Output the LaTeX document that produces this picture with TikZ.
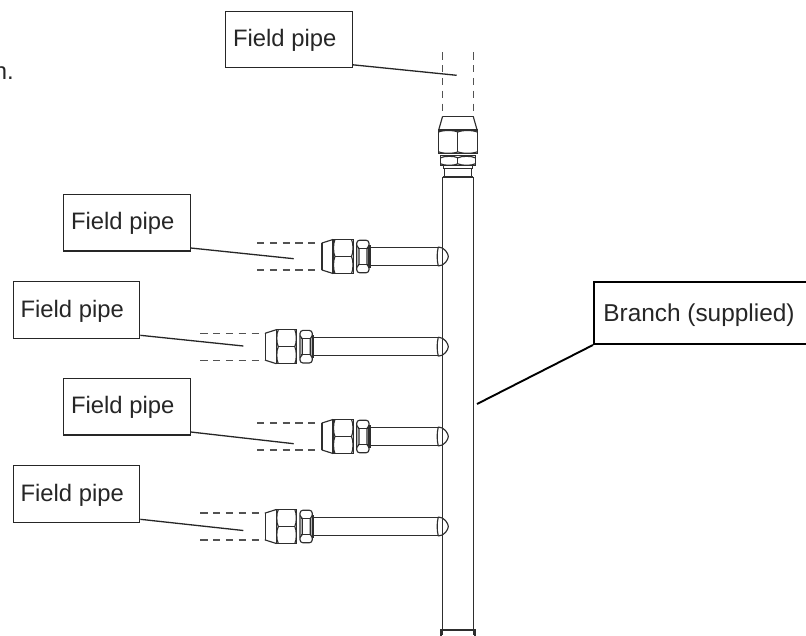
\documentclass[tikz,border=0pt]{standalone}
\usepackage{fontspec}
\setmainfont{Liberation Sans}
\definecolor{ink}{gray}{0.18}
\tikzset{
  pipe/.style={draw=ink,line width=1.15pt},
  dashpipe/.style={draw=black!68,line width=1.15pt,dash pattern=on 7.2pt off 5.6pt},
  leader/.style={draw=black!85,line width=1.3pt},
  labelbox/.style={draw=black!85,line width=1.3pt,fill=white,inner xsep=7.5pt,inner ysep=0pt,
    text width=111.5pt,align=flush left,text height=35.5pt,text depth=21pt,
    font=\fontsize{23.8}{26}\selectfont,text=black!85},
  branchbox/.style={draw=black,line width=1.7pt,fill=white,inner xsep=9.5pt,inner ysep=0pt,
    text width=210pt,align=flush left,text height=40pt,text depth=22.3pt,
    font=\fontsize{24.4}{28}\selectfont,text=black!85}
}
% #1 start, #2 end (along axis), #3 half-width
\newcommand{\hexnutshape}[3]{%
  \draw[pipe] (#1,-#3) rectangle (#2,#3);
  \draw[pipe] (#1+2,0) -- (#2-2,0);
  \foreach \sgn in {-1,1}{%
    \draw[pipe] (#1+2,0) .. controls (#1,\sgn*#3*.2) and (#1,\sgn*#3*.8) .. (#1+2,\sgn*#3);
    \draw[pipe] (#2-2,0) .. controls (#2,\sgn*#3*.2) and (#2,\sgn*#3*.8) .. (#2-2,\sgn*#3);
  }%
}
\newcommand{\armfitting}[3]{%
  \begin{scope}[shift={(#1,#2)},x={(1pt,0pt)},y={(0pt,-1pt)}]
    \draw[dashpipe] (-65,-13.5) -- (-1,-13.5);
    \draw[dashpipe] (-65,13.5) -- (-1,13.5);
    \draw[pipe] (0,-13.5) -- (0,13.5);
    \draw[pipe] (0,-13.5) -- (11,-17) (0,13.5) -- (11,17);
    \hexnutshape{11}{31.5}{17}
    \draw[pipe,rounded corners=3pt] (34.7,-16.3) rectangle (47,16.3);
    \draw[pipe] (36,-8) -- (46,-8) (36,8) -- (46,8);
    \draw[pipe] (34.7,-11) -- (37,-8) -- (37,8) -- (34.7,11);
    \draw[pipe] (47,-11) -- (45,-8) -- (45,8) -- (47,11);
    \draw[pipe] (47,-11) rectangle (48.5,11);
    \draw[pipe,line width=1.45pt] (48.5,-9) -- (#3-#1,-9);
    \draw[pipe,line width=1.45pt] (48.5,9) -- (#3-#1,9);
    \draw[pipe] (#3-#1,-9.5) .. controls (#3-#1-1.5,-4) and (#3-#1-1.5,4) .. (#3-#1,9.5);
    \draw[pipe] (#3-#1,-9.5) .. controls (#3-#1+6,-9.5) and (#3-#1+10,-3) .. (#3-#1+10,0)
                .. controls (#3-#1+10,3) and (#3-#1+6,9.5) .. (#3-#1,9.5);
  \end{scope}%
}
\begin{document}
\begin{tikzpicture}[x=1pt,y=-1pt]
\useasboundingbox (0,0) rectangle (806,635);
\clip (0,0) rectangle (806,635);
\fill[white] (0,0) rectangle (806,635);

% main tube
\draw[pipe] (442.6,177) -- (442.6,635);
\draw[pipe] (473.4,177) -- (473.4,635);
\draw[pipe] (442.6,177) -- (473.4,177);
\draw[pipe] (441,630) rectangle (475,640);

% top fitting
\begin{scope}[shift={(457.9,116.3)},x={(0pt,-1pt)},y={(1pt,0pt)}]
  \draw[dashpipe] (-64,-15.3) -- (-1,-15.3);
  \draw[dashpipe] (-64,15.3) -- (-1,15.3);
  \draw[pipe] (0,-15.3) -- (0,15.3);
  \draw[pipe] (0,-15.3) -- (13.7,-19.2) (0,15.3) -- (13.7,19.2);
  \hexnutshape{13.7}{37.5}{19.2}
  \hexnutshape{39.5}{49.5}{17.3}
  \draw[pipe] (49.5,-14.5) rectangle (52,14.5);
  \draw[pipe] (52,-13.6) rectangle (60.7,13.6);
\end{scope}

% side arms
\armfitting{322}{256.5}{438.3}
\armfitting{265.3}{346.7}{438.3}
\armfitting{322}{436.5}{438.3}
\armfitting{265.3}{526.5}{438.3}

% labels
\node[labelbox,anchor=north west] (topbox) at (225,10.5) {Field pipe};
\node[labelbox,anchor=north west] (armboxa) at (63,193.7) {Field pipe};
\node[labelbox,anchor=north west] (armboxb) at (12.5,281) {Field pipe};
\node[labelbox,anchor=north west] (armboxc) at (63,377.7) {Field pipe};
\node[labelbox,anchor=north west] (armboxd) at (12.5,465) {Field pipe};
\node[branchbox,anchor=north west] (branchlabel) at (593,281) {Branch (supplied)};
\node[anchor=base east,inner sep=0pt,font=\fontsize{23.8}{26}\selectfont,text=black!85] (cutoff) at (14,79) {n.};

% free ends of the leaders
\coordinate (topend) at (456.7,75.3);
\coordinate (aend) at (293.7,258.7);
\coordinate (bend) at (243.3,346);
\coordinate (cend) at (293.7,443.7);
\coordinate (dend) at (243.3,530.5);
\coordinate (branchend) at (477,404);

\draw[leader] ([yshift=3.5pt]topbox.south east) -- (topend);
\draw[leader] ([yshift=3.5pt]armboxa.south east) -- (aend);
\draw[leader] ([yshift=3.5pt]armboxb.south east) -- (bend);
\draw[leader] ([yshift=3.5pt]armboxc.south east) -- (cend);
\draw[leader] ([yshift=3.5pt]armboxd.south east) -- (dend);
\draw[draw=black,line width=1.9pt] (branchlabel.south west) -- (branchend);
\end{tikzpicture}
\end{document}
